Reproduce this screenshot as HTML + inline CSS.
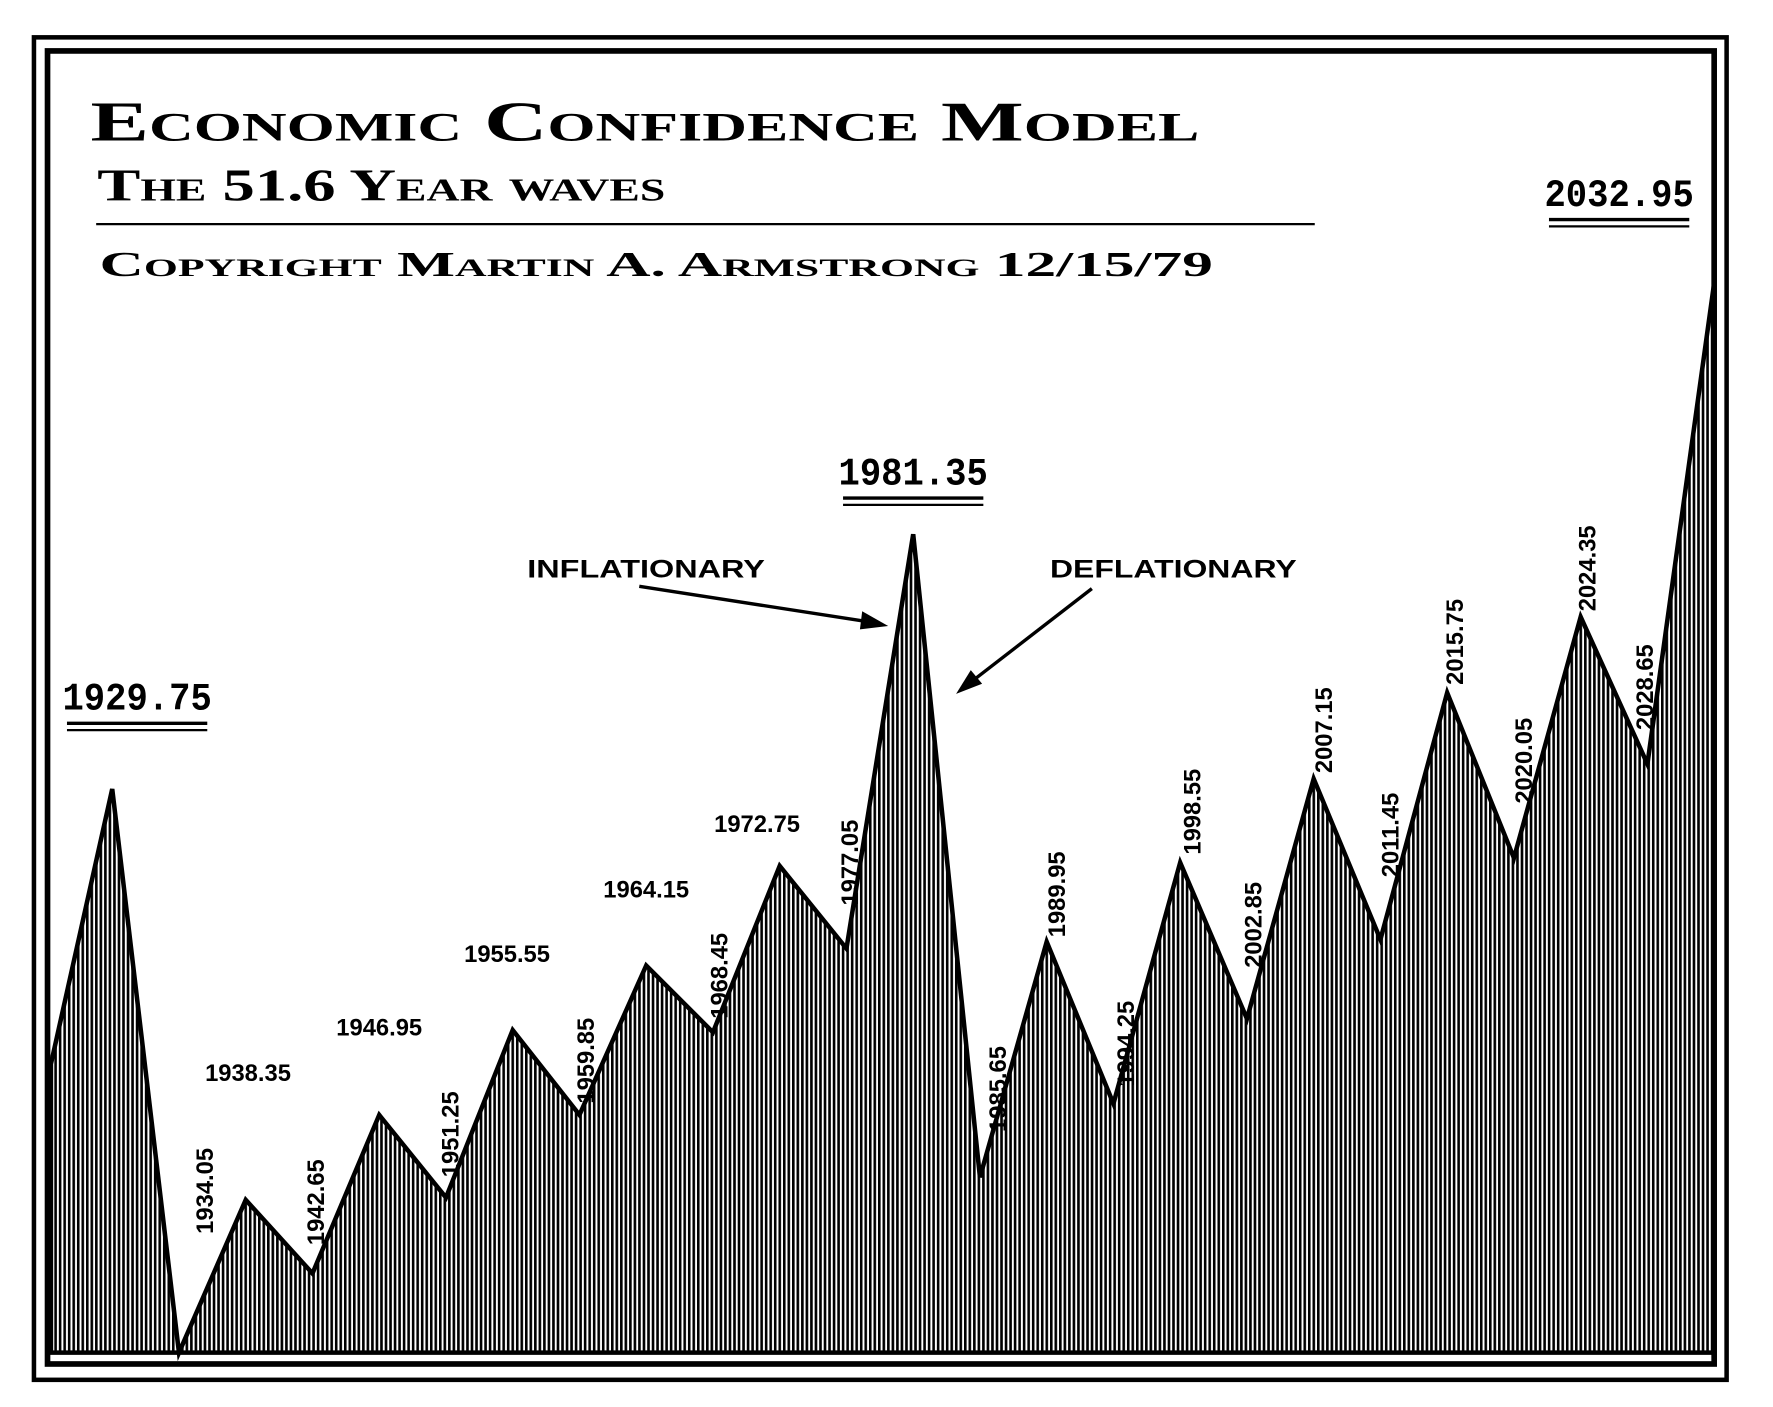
<!DOCTYPE html>
<html><head><meta charset="utf-8"><style>
html,body{margin:0;padding:0;background:#fff;}
svg{display:block;}
text{font-family:"Liberation Sans",sans-serif;font-weight:bold;fill:#000;}
.t{font-family:"Liberation Serif",serif;font-variant:small-caps;}
.m{font-family:"Liberation Mono",monospace;}
</style></head><body>
<svg id="chart" width="1773" height="1407" viewBox="0 0 1567 1243" preserveAspectRatio="none" xmlns="http://www.w3.org/2000/svg">
<defs>
<pattern id="hatch" width="4" height="10" patternUnits="userSpaceOnUse">
<rect width="4" height="10" fill="#fff"/><rect width="2.3" height="10" fill="#000"/>
</pattern>
</defs>
<rect x="30" y="33" width="1496" height="1186" fill="none" stroke="#000" stroke-width="4"/>
<rect x="42" y="45" width="1473" height="1160" fill="none" stroke="#000" stroke-width="5"/>
<text class="t" x="80" y="124" font-size="50" textLength="980" lengthAdjust="spacingAndGlyphs">Economic Confidence Model</text>
<text class="t" x="86" y="177" font-size="40" textLength="502" lengthAdjust="spacingAndGlyphs">The 51.6 Year waves</text>
<line x1="85" y1="198" x2="1162" y2="198" stroke="#000" stroke-width="2"/>
<text class="t" x="88" y="244" font-size="31" textLength="984" lengthAdjust="spacingAndGlyphs">Copyright Martin A. Armstrong 12/15/79</text>
<g id="area"></g>
<g id="labels"></g>
<text x="466" y="510" font-size="22" textLength="210" lengthAdjust="spacingAndGlyphs">INFLATIONARY</text>
<text x="928" y="510" font-size="22" textLength="218" lengthAdjust="spacingAndGlyphs">DEFLATIONARY</text>
<line x1="565" y1="518" x2="772" y2="550" stroke="#000" stroke-width="3"/>
<polygon points="785,553 762,540 760,556" fill="#000"/>
<line x1="965" y1="520" x2="855" y2="605" stroke="#000" stroke-width="3"/>
<polygon points="845,613 858,592 868,604" fill="#000"/>
<script>
const years=[1925.8,1929.75,1934.05,1938.35,1942.65,1946.95,1951.25,1955.55,1959.85,1964.15,1968.45,1972.75,1977.05,1981.35,1985.65,1989.95,1994.25,1998.55,2002.85,2007.15,2011.45,2015.75,2020.05,2024.35,2028.65,2032.95];
const values=[255,498,0,135,70,210,137,285,210,342,283,430,357,723,155,363,220,433,295,507,365,583,437,650,520,945];
const labelText=["","1929.75","1934.05","1938.35","1942.65","1946.95","1951.25","1955.55","1959.85","1964.15","1968.45","1972.75","1977.05","1981.35","1985.65","1989.95","1994.25","1998.55","2002.85","2007.15","2011.45","2015.75","2020.05","2024.35","2028.65","2032.95"];
const labelStyle=["","big","v","h","v","h","v","h","v","h","v","h","v","big","v","v","v","v","v","v","v","v","v","v","v","big"];
const labelGap=[0,0,105,105,25,70,18,60,10,60,12,30,38,0,40,4,15,7,45,5,55,7,48,5,30,0];
const labelShift=[0,0,22,2,2,0,3,-5,5,0,5,-20,2,0,15,8,10,10,5,8,8,6,8,5,-3,0];
const NS="http://www.w3.org/2000/svg";
const x=y=>45+(y-1925.8)*(1515-45)/(2032.95-1925.8);
const base=1195;
const yv=v=>base-v;
const area=document.getElementById('area');
let d="M"+x(years[0])+","+base;
years.forEach((yr,i)=>{d+=" L"+x(yr)+","+yv(values[i]);});
d+=" L"+x(years[years.length-1])+","+base+" Z";
const p=document.createElementNS(NS,'path');
p.setAttribute('d',d);p.setAttribute('fill','url(#hatch)');p.setAttribute('stroke','#000');p.setAttribute('stroke-width','4');p.setAttribute('stroke-linejoin','miter');


area.appendChild(p);
const lg=document.getElementById('labels');
years.forEach((yr,i)=>{
 const s=labelStyle[i];if(!s)return;
 const px=x(yr),py=yv(values[i]);
 const t=document.createElementNS(NS,'text');
 t.textContent=labelText[i];
 
 
 if(s==='big'){
  t.setAttribute('class','m');t.setAttribute('font-size','34');
  let lx=px, ly=py-60;
  if(i===years.length-1){lx=px-84;ly=182;}
  if(i===1){ly=627;lx=px+22;}
  if(i===13){ly=428;}
  t.setAttribute('x',lx);t.setAttribute('y',ly);t.setAttribute('text-anchor','middle');
  t.setAttribute('textLength','132');t.setAttribute('lengthAdjust','spacingAndGlyphs');
  lg.appendChild(t);
  [12,18].forEach(o=>{
   const u=document.createElementNS(NS,'line');
   u.setAttribute('x1',lx-62);u.setAttribute('x2',lx+62);u.setAttribute('y1',ly+o);u.setAttribute('y2',ly+o);
   u.setAttribute('stroke','#000');u.setAttribute('stroke-width',o===12?'3':'2');
   
   
   lg.appendChild(u);
  });
 } else if(s==='h'){
  t.setAttribute('font-size','21');t.setAttribute('x',px+labelShift[i]);t.setAttribute('y',py-labelGap[i]);t.setAttribute('text-anchor','middle');
  lg.appendChild(t);
 } else {
  t.setAttribute('font-size','21');
  const ax=px+labelShift[i]+8, ay=py-labelGap[i];
  t.setAttribute('transform','translate('+ax+','+ay+') rotate(-90)');
  t.setAttribute('x',0);t.setAttribute('y',0);
  lg.appendChild(t);
 }
});
</script>
</svg>
</body></html>
